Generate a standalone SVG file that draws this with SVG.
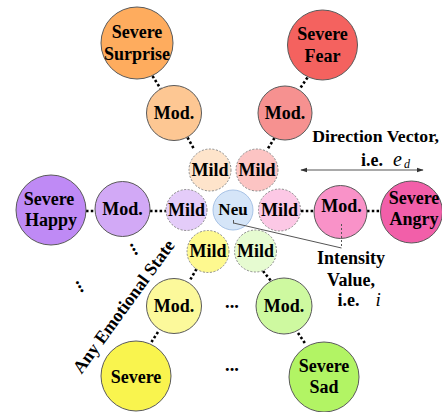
<svg xmlns="http://www.w3.org/2000/svg" width="442" height="412" viewBox="0 0 442 412">
<defs>
<style>
.n { stroke:#5a5a5a; stroke-width:1; }
.mild { stroke:#8a8a8a; stroke-width:1; stroke-dasharray:2 1.6; }
.t { font-family:"Liberation Serif","Times New Roman",serif; font-weight:bold; font-size:18px; text-anchor:middle; fill:#000; }
.it { font-family:"Liberation Serif","Times New Roman",serif; font-style:italic; fill:#000; }
.dot { stroke:#000; stroke-width:2.6; stroke-dasharray:2.5 2.3; fill:none; }
.thin { stroke:#555; stroke-width:1; fill:none; }
</style>
<marker id="ah" viewBox="0 0 10 10" refX="9" refY="5" markerWidth="7" markerHeight="7" orient="auto-start-reverse" markerUnits="userSpaceOnUse">
<path d="M0,1.5 L10,5 L0,8.5 Z" fill="#333"/>
</marker>
</defs>
<rect width="442" height="412" fill="#fff"/>

<g id="connectors">
<line class="dot" x1="152.5" y1="76" x2="160.5" y2="88.5"/>
<line class="dot" x1="187.5" y1="137.5" x2="194" y2="149"/>
<line class="dot" x1="307.5" y1="77.5" x2="300" y2="88.5"/>
<line class="dot" x1="274.5" y1="138" x2="267" y2="150"/>
<line class="dot" x1="86" y1="211" x2="95.5" y2="211"/>
<line class="dot" x1="150" y1="211" x2="166" y2="211"/>
<line class="dot" x1="301" y1="211" x2="314.5" y2="211"/>
<line class="dot" x1="367" y1="211" x2="380.5" y2="211"/>
<line class="dot" x1="196.5" y1="269" x2="189.5" y2="281"/>
<line class="dot" x1="158" y1="332" x2="151.5" y2="342"/>
<line class="dot" x1="263" y1="271" x2="271.5" y2="281.5"/>
<line class="dot" x1="298" y1="333" x2="305.5" y2="344"/>
</g>

<g id="severe-surprise"><circle class="n" cx="137" cy="43" r="36" fill="#FEAC5E"/><text class="t" x="137" y="37.5">Severe</text><text class="t" x="137" y="59.5">Surprise</text></g>
<g id="mod-surprise"><circle class="n" cx="174" cy="113" r="27.5" fill="#FDC793"/><text class="t" x="174" y="119">Mod.</text></g>
<g id="mild-surprise"><circle class="mild" cx="210" cy="170" r="21" fill="#FEE4CB"/><text class="t" x="210" y="175.5">Mild</text></g>

<g id="severe-fear"><circle class="n" cx="322.5" cy="45" r="35" fill="#F4625F"/><text class="t" x="322.5" y="39.5">Severe</text><text class="t" x="322.5" y="62">Fear</text></g>
<g id="mod-fear"><circle class="n" cx="285" cy="113" r="27" fill="#F69190"/><text class="t" x="285" y="119">Mod.</text></g>
<g id="mild-fear"><circle class="mild" cx="257" cy="170" r="21" fill="#FCC4C3"/><text class="t" x="257" y="175.5">Mild</text></g>

<g id="severe-happy"><circle class="n" cx="51" cy="210" r="35" fill="#BF8AF5"/><text class="t" x="49" y="204.5">Severe</text><text class="t" x="51" y="225.5">Happy</text></g>
<g id="mod-happy"><circle class="n" cx="122.5" cy="209" r="27.5" fill="#D2A9F6"/><text class="t" x="122.5" y="214.5">Mod.</text></g>
<g id="mild-happy"><circle class="mild" cx="186.5" cy="210" r="20.5" fill="#E4CCF9"/><text class="t" x="186.5" y="216">Mild</text></g>

<g id="neu"><circle cx="233" cy="210" r="20" fill="#D5E5F8" stroke="#A8C3E6" stroke-width="1"/><text class="t" x="233" y="215" style="font-size:17px">Neu</text></g>

<g id="mild-angry"><circle class="mild" cx="279.5" cy="210" r="21" fill="#FCC8E5"/><text class="t" x="279.5" y="216">Mild</text></g>
<g id="mod-angry"><circle class="n" cx="340.5" cy="212" r="26.5" fill="#F992C8"/><text class="t" x="341.5" y="212">Mod.</text></g>
<g id="severe-angry"><circle class="n" cx="411.5" cy="212" r="31" fill="#F25FA9"/><text class="t" x="414" y="203.5">Severe</text><text class="t" x="414" y="225">Angry</text></g>

<g id="mild-yellow"><circle class="mild" cx="208" cy="251.5" r="21" fill="#FEF98F"/><text class="t" x="208" y="256.5">Mild</text></g>
<g id="mod-yellow"><circle class="n" cx="174" cy="306" r="27.5" fill="#FCF99B"/><text class="t" x="174" y="312">Mod.</text></g>
<g id="severe-yellow"><circle class="n" cx="136" cy="376" r="35" fill="#F9F44E"/><text class="t" x="136" y="382.5">Severe</text></g>

<g id="mild-sad"><circle class="mild" cx="255.5" cy="251" r="21" fill="#E6FBD1"/><text class="t" x="255.5" y="256.5">Mild</text></g>
<g id="mod-sad"><circle class="n" cx="284" cy="306" r="28" fill="#CEF9A0"/><text class="t" x="284" y="312">Mod.</text></g>
<g id="severe-sad"><circle class="n" cx="324" cy="377" r="35" fill="#B2F464"/><text class="t" x="324" y="371.5">Severe</text><text class="t" x="324" y="392.5">Sad</text></g>

<g id="direction-vector">
<line class="thin" x1="301" y1="170" x2="423" y2="170" stroke="#333" marker-start="url(#ah)" marker-end="url(#ah)"/>
<text class="t" x="375.5" y="141.5" style="font-size:17.7px">Direction Vector,</text>
<text class="t" x="361" y="165.5" style="text-anchor:start">i.e.</text>
<text class="it" x="393" y="165.5" style="font-size:20px">e</text>
<text class="it" x="404" y="168" style="font-size:12px">d</text>
</g>

<g id="intensity-value">
<line class="thin" x1="233.5" y1="220" x2="233.5" y2="223.5"/>
<line class="thin" x1="233.5" y1="223" x2="341.5" y2="248"/>
<line class="thin" x1="341.5" y1="224" x2="341.5" y2="248" stroke-dasharray="2 2"/>
<text class="t" x="351" y="263.5">Intensity</text>
<text class="t" x="351" y="285.5">Value,</text>
<text class="t" x="337.5" y="306" style="text-anchor:start">i.e.</text>
<text class="it" x="375.5" y="306" style="font-size:19px">i</text>
</g>

<g id="any-state">
<text class="t" transform="translate(128.5,310) rotate(-54)" x="0" y="0">Any Emotional State</text>
</g>

<g id="ellipses">
<text class="t" style="font-size:18.5px" transform="translate(134.2,249.2) rotate(61)" x="0" y="1.5">...</text>
<text class="t" style="font-size:18.5px" transform="translate(80,286.5) rotate(61)" x="0" y="1.5">...</text>
<text class="t" style="font-size:18.5px" x="232" y="307.5">...</text>
<text class="t" style="font-size:18.5px" x="232" y="371">...</text>
</g>
</svg>
